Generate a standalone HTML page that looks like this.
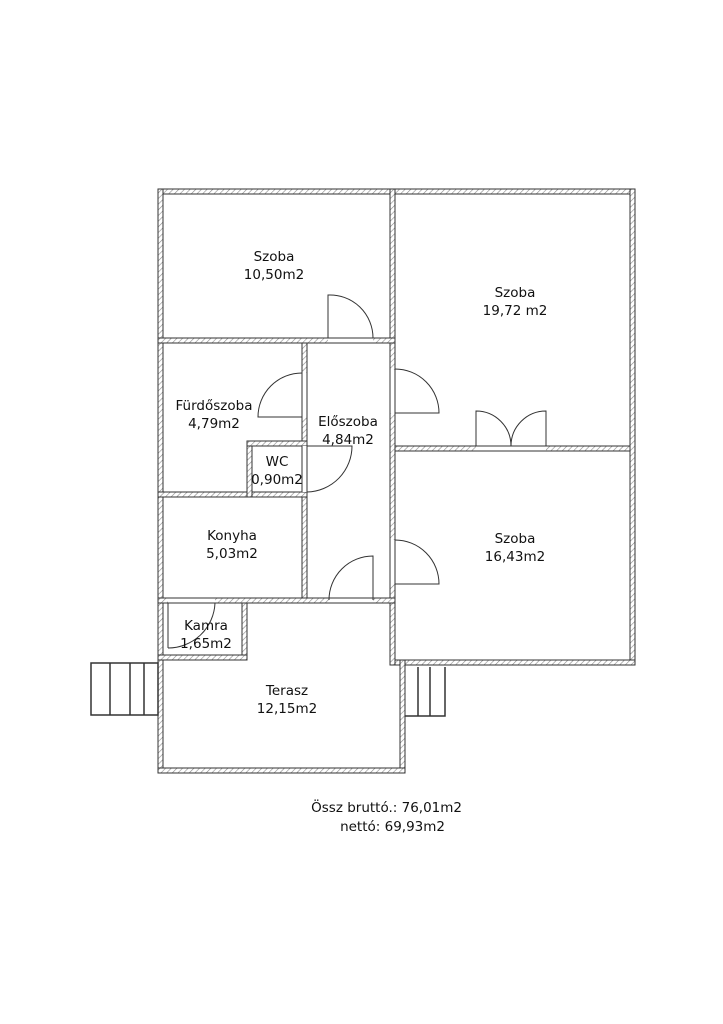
<!DOCTYPE html>
<html><head><meta charset="utf-8"><style>
html,body{margin:0;padding:0;background:#fff}
svg{display:block}
text{font-family:"DejaVu Sans","Liberation Sans",sans-serif;font-size:13.5px;fill:#111;text-anchor:middle}
</style></head><body>
<svg width="723" height="1024" viewBox="0 0 723 1024" xmlns="http://www.w3.org/2000/svg">
<defs>
<pattern id="h" width="4" height="4" patternUnits="userSpaceOnUse" patternTransform="rotate(45)">
<rect width="4" height="4" fill="#fff"/><line x1="0" y1="0" x2="0" y2="4" stroke="#888" stroke-width="1.2"/>
</pattern>
</defs>
<g fill="url(#h)" stroke="#333" stroke-width="1">
<rect x="158" y="189" width="477" height="5"/>
<rect x="158" y="189" width="5" height="584"/>
<rect x="630" y="189" width="5" height="476"/>
<rect x="390" y="660" width="245" height="5"/>
<rect x="400" y="660" width="5" height="113"/>
<rect x="158" y="768" width="247" height="5"/>
<rect x="390" y="189" width="5" height="476"/>
<rect x="158" y="338" width="237" height="5"/>
<rect x="302" y="343" width="5" height="260"/>
<rect x="395" y="446" width="235" height="5"/>
<rect x="158" y="492" width="149" height="5"/>
<rect x="247" y="441" width="5" height="56"/>
<rect x="247" y="441" width="60" height="5"/>
<rect x="158" y="598" width="237" height="5"/>
<rect x="242" y="603" width="5" height="57"/>
<rect x="158" y="655" width="89" height="5"/>
</g>
<g fill="#fff" stroke="none">
<rect x="328" y="338.5" width="45" height="4"/>
<rect x="390.5" y="370" width="4" height="43"/>
<rect x="390.5" y="540" width="4" height="44"/>
<rect x="476" y="446.5" width="70" height="4"/>
<rect x="302.5" y="373" width="4" height="44"/>
<rect x="302.5" y="446" width="4" height="46"/>
<rect x="329" y="598.5" width="44" height="4"/>
<rect x="168" y="598.5" width="47" height="4"/>
</g>
<g fill="none" stroke="#333" stroke-width="1">
<line x1="328" y1="338" x2="373" y2="338"/><line x1="328" y1="343" x2="373" y2="343"/>
<line x1="476" y1="446" x2="546" y2="446"/><line x1="476" y1="451" x2="546" y2="451"/>
<line x1="329" y1="598" x2="373" y2="598"/><line x1="329" y1="603" x2="373" y2="603"/>
<line x1="168" y1="603" x2="215" y2="603"/>
<path d="M328 338 V295 A43 43 0 0 1 373 338"/>
<path d="M395 413 H439 A44 44 0 0 0 395 369"/>
<path d="M395 584 H439 A44 44 0 0 0 395 540"/>
<path d="M476 446 V411 A35 35 0 0 1 511 446"/>
<path d="M546 446 V411 A35 35 0 0 0 511 446"/>
<path d="M302 417 H258 A44 44 0 0 1 302 373"/>
<path d="M307 446 H352 A46 46 0 0 1 307 492"/>
<path d="M373 600 V556 A44 44 0 0 0 329 600"/>
<path d="M215 603 A47 47 0 0 1 168 648"/>
<line x1="168" y1="603" x2="168" y2="648"/>
<rect x="91" y="663" width="67" height="52" stroke-width="1.5"/>
<line x1="110" y1="663" x2="110" y2="715" stroke-width="1.5"/>
<line x1="130" y1="663" x2="130" y2="715" stroke-width="1.5"/>
<line x1="144" y1="663" x2="144" y2="715" stroke-width="1.5"/>
<path d="M405 716 H445 V667" stroke-width="1.5"/>
<line x1="418" y1="667" x2="418" y2="716" stroke-width="1.5"/>
<line x1="430" y1="667" x2="430" y2="716" stroke-width="1.5"/>
</g>
<text x="274" y="261">Szoba</text><text x="274" y="279">10,50m2</text>
<text x="515" y="297">Szoba</text><text x="515" y="315">19,72 m2</text>
<text x="214" y="410">Fürdőszoba</text><text x="214" y="428">4,79m2</text>
<text x="348" y="426">Előszoba</text><text x="348" y="444">4,84m2</text>
<text x="277" y="466">WC</text><text x="277" y="484">0,90m2</text>
<text x="232" y="540">Konyha</text><text x="232" y="558">5,03m2</text>
<text x="515" y="543">Szoba</text><text x="515" y="561">16,43m2</text>
<text x="206" y="630">Kamra</text><text x="206" y="648">1,65m2</text>
<text x="287" y="695">Terasz</text><text x="287" y="713">12,15m2</text>
<text x="462" y="812" style="text-anchor:end">Össz bruttó.: 76,01m2</text>
<text x="445" y="831" style="text-anchor:end">nettó: 69,93m2</text>
</svg>
</body></html>
